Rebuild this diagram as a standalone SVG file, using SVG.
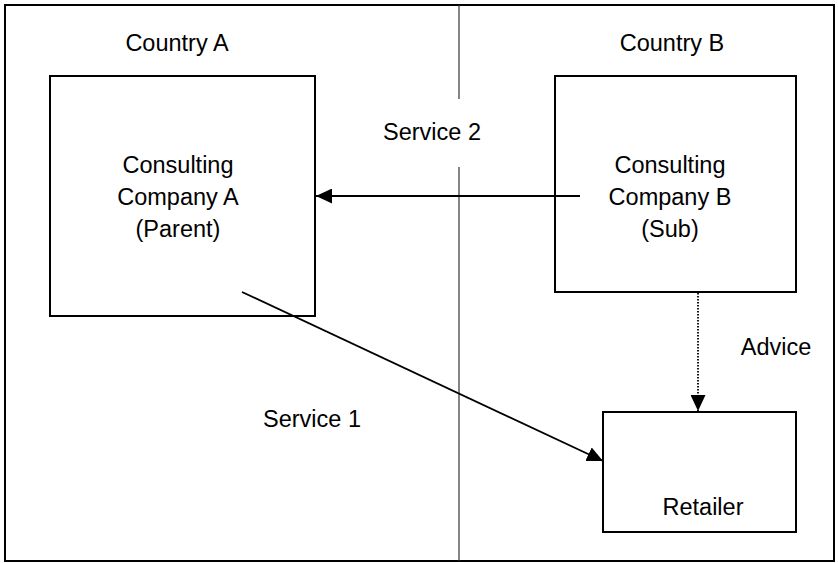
<svg xmlns="http://www.w3.org/2000/svg" width="838" height="563" viewBox="0 0 838 563">
<defs>
<style>
text{font-family:"Liberation Sans",Arial,sans-serif;font-size:23.5px;fill:#000;text-anchor:middle}
.box{fill:#fff;stroke:#000;stroke-width:2}
.line{stroke:#000;stroke-width:1.8;fill:none}
.dot{stroke:#000;stroke-width:1.8;fill:none;stroke-dasharray:1.5 1.5}
</style>
<marker id="ah" viewBox="0 0 16 15" refX="16" refY="7.5" markerWidth="16" markerHeight="15" markerUnits="userSpaceOnUse" orient="auto">
<path d="M0,0 L16,7.5 L0,15 Z" fill="#000"/>
</marker>
</defs>
<rect width="838" height="563" fill="#fff"/>
<g id="frame">
<rect x="5" y="5" width="829" height="556" fill="none" stroke="#000" stroke-width="2"/>
<line x1="459" y1="5" x2="459" y2="99" stroke="#333" stroke-width="1.2"/>
<line x1="459" y1="167" x2="459" y2="561" stroke="#333" stroke-width="1.2"/>
<text x="177" y="51">Country A</text>
<text x="672" y="51">Country B</text>
</g>
<g id="companyA">
<rect class="box" x="50" y="76" width="265" height="240"/>
<text x="178" y="173">Consulting</text>
<text x="178" y="205">Company A</text>
<text x="178" y="237">(Parent)</text>
</g>
<g id="companyB">
<rect class="box" x="555" y="76" width="241" height="216"/>
<text x="670" y="173">Consulting</text>
<text x="670" y="205">Company B</text>
<text x="670" y="237">(Sub)</text>
</g>
<g id="retailer">
<rect class="box" x="603" y="412" width="193" height="120"/>
<text x="703" y="515">Retailer</text>
</g>
<g id="connectors">
<line class="line" x1="580" y1="196" x2="316" y2="196" marker-end="url(#ah)"/>
<line class="dot" x1="698" y1="293" x2="698" y2="411" marker-end="url(#ah)"/>
<line class="line" x1="242" y1="292" x2="603" y2="461" marker-end="url(#ah)"/>
<text x="432" y="140">Service 2</text>
<text x="312" y="427">Service 1</text>
<text x="776" y="355">Advice</text>
</g>
</svg>
